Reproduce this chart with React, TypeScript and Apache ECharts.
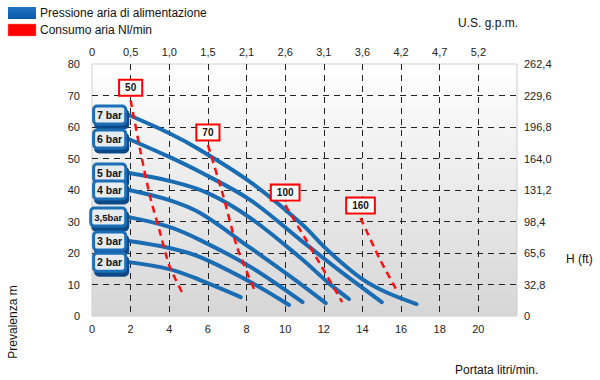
import React, { useEffect, useRef } from "react";
import * as echarts from "echarts";

// Bottom axis: flow (litri/min), top axis: U.S. g.p.m. labels, right axis: H (ft) labels
const gpmLabels = ["0", "0,5", "1,0", "1,5", "2,1", "2,6", "3,1", "3,6", "4,2", "4,7", "5,2"];
const ftLabels = ["0", "32,8", "65,6", "98,4", "131,2", "164,0", "196,8", "229,6", "262,4"];

// Air supply pressure curves (flow l/min, head m)
const barNames = ["7 bar", "6 bar", "5 bar", "4 bar", "3,5bar", "3 bar", "2 bar"];
const flow7 = [1.9, 4, 5.6, 8.2, 10.8, 12.3, 13.9, 15.2, 16.8];
const head7 = [63.8, 58, 52.7, 42.5, 29.5, 20.3, 12.1, 7.6, 3.8];
const flow6 = [1.9, 4, 5.6, 8.2, 10.8, 12.9, 15.0];
const head6 = [56.2, 50.5, 45.7, 36.8, 24.1, 14, 4.4];
const flow5 = [1.9, 4, 6, 8.2, 10.8, 12.3, 13.3];
const head5 = [45.4, 42.9, 39, 31.1, 18.4, 10.2, 5.4];
const flow4 = [1.9, 4, 5.6, 8.2, 10.3, 12.1];
const head4 = [40, 36.8, 32.7, 21.6, 12.4, 4.1];
const flow35 = [1.9, 4, 5.6, 8.2, 10.9];
const head35 = [31.4, 28.3, 24.1, 15.6, 4.4];
const flow3 = [1.9, 4, 5.6, 8.2, 10.2];
const head3 = [23.8, 21.6, 18.7, 10.8, 3.5];
const flow2 = [1.9, 4, 5.6, 7.7];
const head2 = [17.1, 14.9, 11.4, 6.0];

// Air consumption lines (Nl/min)
const consNames = ["50", "70", "100", "160"];
const flowC50 = [2, 2.5, 3, 3.5, 4, 4.7];
const headC50 = [68.5, 52.5, 38, 27, 16, 7];
const flowC70 = [6, 6.8, 7.5, 8.45];
const headC70 = [54.3, 38, 22, 7.6];
const flowC100 = [10, 11, 12, 12.95];
const headC100 = [35.2, 25, 14.5, 4.4];
const flowC160 = [13.9, 14.9, 15.85];
const headC160 = [31.1, 18, 7.3];

const FONT = "Liberation Sans";
const BLUE = "#1a6cb3";
const RED = "#ff1010";
const CLEAR = "rgba(0,0,0,0)";

const barFlows = [flow7, flow6, flow5, flow4, flow35, flow3, flow2];
const barHeads = [head7, head6, head5, head4, head35, head3, head2];
const consFlows = [flowC50, flowC70, flowC100, flowC160];
const consHeads = [headC50, headC70, headC100, headC160];

export default function App() {
  const ref = useRef<HTMLDivElement>(null);
  useEffect(() => {
    if (!ref.current) return;
    const chart = echarts.init(ref.current, null, { renderer: "svg" });

    const blueSeries = barNames.map((name, i) => ({
      type: "line",
      name,
      smooth: 0.35,
      symbol: "circle",
      symbolSize: 1,
      showSymbol: true,
      itemStyle: { color: CLEAR },
      lineStyle: { color: BLUE, width: 4, cap: "round" },
      z: 3,
      data: barFlows[i].map((f, j) =>
        j === 0
          ? {
              value: [f, barHeads[i][j]],
              label: {
                show: true,
                position: "left",
                distance: 4,
                formatter: name,
                fontFamily: FONT,
                fontSize: name.length > 5 ? 9.5 : 10.5,
                fontWeight: "bold",
                color: "#111",
                lineHeight: 13,
                backgroundColor: "#e6ebf0",
                borderColor: "#1d6eb6",
                borderWidth: 3,
                borderRadius: 2,
                padding: [1, 2, 1, 2],
                shadowColor: "#0d4a86",
                shadowOffsetX: 2,
                shadowOffsetY: 4,
                shadowBlur: 0.1,
              },
            }
          : [f, barHeads[i][j]]
      ),
    }));

    const redSeries = consNames.map((name, i) => ({
      type: "line",
      name,
      smooth: 0.2,
      symbol: "circle",
      symbolSize: 1,
      showSymbol: true,
      itemStyle: { color: CLEAR },
      lineStyle: { color: RED, width: 2.5, type: [7, 5] },
      z: 4,
      data: consFlows[i].map((f, j) =>
        j === 0
          ? {
              value: [f, consHeads[i][j]],
              label: {
                show: true,
                position: "top",
                distance: 5,
                formatter: name,
                fontFamily: FONT,
                fontSize: 10,
                fontWeight: "bold",
                color: "#111",
                backgroundColor: "#ffffff",
                borderColor: "#ff0000",
                borderWidth: 2,
                padding: [2, 5, 2, 5],
              },
            }
          : [f, consHeads[i][j]]
      ),
    }));

    const labelStyle = { fontFamily: FONT, fontSize: 11, color: "#222" };

    chart.setOption({
      animation: false,
      grid: {
        left: 92,
        right: 83,
        top: 64,
        bottom: 64,
        show: true,
        borderColor: "#cfcfcf",
        borderWidth: 1,
        backgroundColor: new echarts.graphic.LinearGradient(0, 0, 0, 1, [
          { offset: 0, color: "#ffffff" },
          { offset: 1, color: "#d6d6d6" },
        ]),
      },
      xAxis: [
        {
          type: "value",
          position: "bottom",
          min: 0,
          max: 22,
          interval: 2,
          axisLine: { show: false },
          axisTick: { show: false },
          axisLabel: {
            ...labelStyle,
            margin: 7,
            formatter: (v: number) => (v > 20 ? "" : String(v)),
          },
          splitLine: {
            show: true,
            showMinLine: false,
            showMaxLine: false,
            lineStyle: { color: "#222", width: 1, type: [6, 5] },
          },
        },
        {
          type: "value",
          position: "top",
          min: 0,
          max: 22,
          interval: 2,
          axisLine: { show: false },
          axisTick: { show: false },
          axisLabel: {
            ...labelStyle,
            margin: 7,
            formatter: (v: number) => gpmLabels[Math.round(v / 2)] ?? "",
          },
          splitLine: { show: false },
        },
      ],
      yAxis: [
        {
          type: "value",
          position: "left",
          min: 0,
          max: 80,
          interval: 10,
          axisLine: { show: false },
          axisTick: { show: false },
          axisLabel: { ...labelStyle, margin: 12 },
          splitLine: {
            show: true,
            showMinLine: false,
            showMaxLine: false,
            lineStyle: { color: "#222", width: 1, type: [6, 5] },
          },
        },
        {
          type: "value",
          position: "right",
          min: 0,
          max: 80,
          interval: 10,
          axisLine: { show: false },
          axisTick: { show: false },
          axisLabel: {
            ...labelStyle,
            margin: 7,
            formatter: (v: number) => ftLabels[Math.round(v / 10)] ?? "",
          },
          splitLine: { show: false },
        },
      ],
      graphic: [
        {
          type: "rect",
          shape: { x: 8, y: 7, width: 28, height: 12 },
          style: {
            fill: new echarts.graphic.LinearGradient(0, 0, 0, 1, [
              { offset: 0, color: "#1f73c4" },
              { offset: 1, color: "#0c5aa6" },
            ]),
          },
        },
        {
          type: "text",
          x: 40,
          y: 13,
          style: {
            text: "Pressione aria di alimentazione",
            fontFamily: FONT,
            fontSize: 12,
            fill: "#111",
            verticalAlign: "middle",
          },
        },
        {
          type: "rect",
          shape: { x: 8, y: 24, width: 28, height: 12 },
          style: { fill: "#ff0000", stroke: "#ff8080", lineWidth: 0.5 },
        },
        {
          type: "text",
          x: 40,
          y: 30,
          style: {
            text: "Consumo aria Nl/min",
            fontFamily: FONT,
            fontSize: 12,
            fill: "#111",
            verticalAlign: "middle",
          },
        },
        {
          type: "text",
          x: 458,
          y: 23,
          style: {
            text: "U.S. g.p.m.",
            fontFamily: FONT,
            fontSize: 12,
            fill: "#111",
            verticalAlign: "middle",
          },
        },
        {
          type: "text",
          x: 566,
          y: 259,
          style: {
            text: "H (ft)",
            fontFamily: FONT,
            fontSize: 12,
            fill: "#111",
            verticalAlign: "middle",
          },
        },
        {
          type: "text",
          x: 13,
          y: 322,
          rotation: Math.PI / 2,
          style: {
            text: "Prevalenza m",
            fontFamily: FONT,
            fontSize: 12,
            fill: "#111",
            align: "center",
            verticalAlign: "middle",
          },
        },
        {
          type: "text",
          x: 455,
          y: 370,
          style: {
            text: "Portata litri/min.",
            fontFamily: FONT,
            fontSize: 12,
            fill: "#111",
            verticalAlign: "middle",
          },
        },
      ],
      series: [...blueSeries, ...redSeries],
    });

    return () => chart.dispose();
  }, []);

  return (
    <div
      ref={ref}
      style={{ position: "absolute", left: 0, top: 0, width: 600, height: 380 }}
    />
  );
}
